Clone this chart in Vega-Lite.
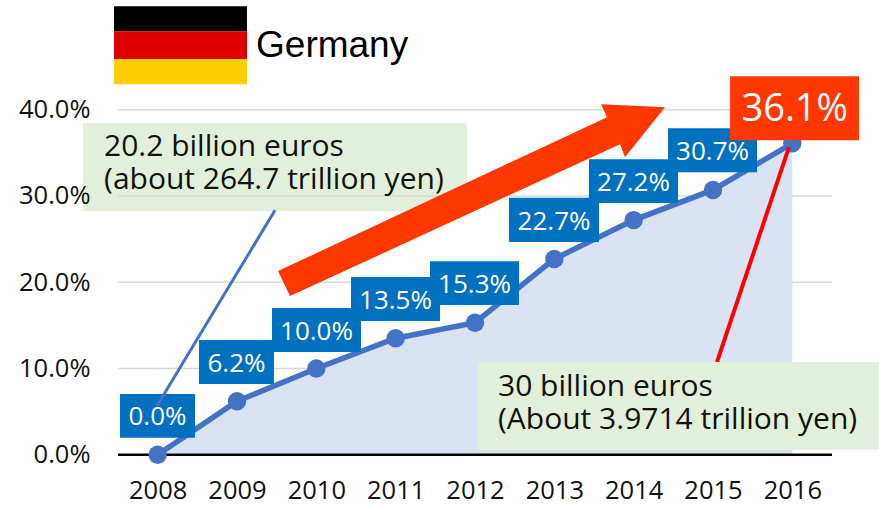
{
"$schema":"https://vega.github.io/schema/vega-lite/v6.json",
"width":714,"height":345,
"autosize":{"type":"none"},
"padding":{"left":118,"top":109.7,"right":47,"bottom":51.3},
"background":"white",
"config":{"view":{"stroke":null}},
"datasets":{
"series":[{"year":2008,"value":0.0},{"year":2009,"value":6.2},{"year":2010,"value":10.0},{"year":2011,"value":13.5},{"year":2012,"value":15.3},{"year":2013,"value":22.7},{"year":2014,"value":27.2},{"year":2015,"value":30.7},{"year":2016,"value":36.1}],
"labels":[
{"t":"0.0%","x":2007.525,"x2":2008.471,"y":1.97,"y2":7.03,"mx":2007.998,"my":4.5},
{"t":"6.2%","x":2008.521,"x2":2009.466,"y":8.19,"y2":13.29,"mx":2008.994,"my":10.74},
{"t":"10.0%","x":2009.441,"x2":2010.563,"y":11.9,"y2":17.0,"mx":2010.002,"my":14.45},
{"t":"13.5%","x":2010.437,"x2":2011.559,"y":15.49,"y2":20.59,"mx":2010.998,"my":18.04},
{"t":"15.3%","x":2011.433,"x2":2012.555,"y":17.35,"y2":22.44,"mx":2011.994,"my":19.9},
{"t":"22.7%","x":2012.429,"x2":2013.563,"y":24.65,"y2":29.78,"mx":2012.996,"my":27.2},
{"t":"27.2%","x":2013.437,"x2":2014.559,"y":29.17,"y2":34.26,"mx":2013.998,"my":31.7},
{"t":"30.7%","x":2014.433,"x2":2015.555,"y":32.76,"y2":37.86,"mx":2014.994,"my":35.3}
],
"flag":[
{"c":"#000000","x":2007.45,"x2":2009.126,"y":49.09,"y2":51.99},
{"c":"#DD0000","x":2007.45,"x2":2009.126,"y":45.85,"y2":49.09},
{"c":"#FFCE00","x":2007.45,"x2":2009.126,"y":42.95,"y2":45.85}
],
"arrow":[
{"i":0,"x":2009.517,"y":21.29},{"i":1,"x":2009.668,"y":18.39},{"i":2,"x":2013.828,"y":36.0},{"i":3,"x":2013.891,"y":34.5},{"i":4,"x":2014.395,"y":40.29},{"i":5,"x":2013.589,"y":40.64},{"i":6,"x":2013.664,"y":39.13},{"i":7,"x":2009.517,"y":21.29}
]
},
"data":{"name":"series"},
"layer":[
{"data":{"values":[{"x":2007.059,"x2":2011.899,"y":28.24,"y2":38.44}]},
 "mark":{"type":"rect","color":"#E2EFDA"},
 "encoding":{"x":{"field":"x","type":"quantitative","scale":{"domain":[2007.5,2016.5]}},"x2":{"field":"x2"},"y":{"field":"y","type":"quantitative","scale":{"domain":[0,40]}},"y2":{"field":"y2"}}},
{"data":{"values":[{"g":10},{"g":20},{"g":30},{"g":40}]},
 "mark":{"type":"rule","color":"#D9D9D9","strokeWidth":1.5},
 "encoding":{"y":{"field":"g","type":"quantitative","scale":{"domain":[0,40]}}}},
{"mark":{"type":"area","color":"#DAE3F3","opacity":1},
 "encoding":{"x":{"field":"year","type":"quantitative","scale":{"domain":[2007.5,2016.5]},"axis":{"title":null,"values":[2008,2009,2010,2011,2012,2013,2014,2015,2016],"format":"d","grid":false,"domain":false,"ticks":false,"labelFont":"Open Sans","labelFontSize":25.5,"labelColor":"#111111","labelPadding":24,"labelFlush":false,"labelOverlap":false}},"y":{"field":"value","type":"quantitative","scale":{"domain":[0,40]},"axis":{"title":null,"values":[0,10,20,30,40],"labelExpr":"format(datum.value,'.1f')+'%'","grid":false,"domain":false,"ticks":false,"labelFont":"Open Sans","labelFontSize":25.5,"labelColor":"#111111","labelPadding":28,"zindex":1}}}},
{"data":{"values":[{"g":0}]},
 "mark":{"type":"rule","color":"#000000","strokeWidth":2.5},
 "encoding":{"y":{"field":"g","type":"quantitative","scale":{"domain":[0,40]}}}},
{"mark":{"type":"line","color":"#4472C4","strokeWidth":5.5},
 "encoding":{"x":{"field":"year","type":"quantitative","scale":{"domain":[2007.5,2016.5]}},"y":{"field":"value","type":"quantitative","scale":{"domain":[0,40]}}}},
{"mark":{"type":"circle","color":"#4472C4","size":340,"opacity":1},
 "encoding":{"x":{"field":"year","type":"quantitative","scale":{"domain":[2007.5,2016.5]}},"y":{"field":"value","type":"quantitative","scale":{"domain":[0,40]}}}},
{"data":{"name":"labels"},
 "mark":{"type":"rect","color":"#0070C0"},
 "encoding":{"x":{"field":"x","type":"quantitative","scale":{"domain":[2007.5,2016.5]}},"x2":{"field":"x2"},"y":{"field":"y","type":"quantitative","scale":{"domain":[0,40]}},"y2":{"field":"y2"}}},
{"data":{"values":[{"x":2007.99,"y":5.64},{"x":2009.479,"y":28.35}]},
 "mark":{"type":"line","color":"#4472C4","strokeWidth":3},
 "encoding":{"x":{"field":"x","type":"quantitative","scale":{"domain":[2007.5,2016.5]}},"y":{"field":"y","type":"quantitative","scale":{"domain":[0,40]}}}},
{"data":{"name":"labels"},
 "mark":{"type":"text","color":"white","font":"Open Sans","fontSize":26,"align":"center","baseline":"middle","dy":1.5},
 "encoding":{"x":{"field":"mx","type":"quantitative","scale":{"domain":[2007.5,2016.5]}},"y":{"field":"my","type":"quantitative","scale":{"domain":[0,40]}},"text":{"field":"t"}}},
{"data":{"name":"arrow"},
 "mark":{"type":"line","color":"#FF3700","fill":"#FF3700","strokeWidth":0,"interpolate":"linear"},
 "encoding":{"order":{"field":"i","type":"quantitative"},"x":{"field":"x","type":"quantitative","scale":{"domain":[2007.5,2016.5]}},"y":{"field":"y","type":"quantitative","scale":{"domain":[0,40]}}}},
{"data":{"values":[{"x":2015.215,"x2":2016.841,"y":36.47,"y2":43.88}]},
 "mark":{"type":"rect","color":"#FF3700"},
 "encoding":{"x":{"field":"x","type":"quantitative","scale":{"domain":[2007.5,2016.5]}},"x2":{"field":"x2"},"y":{"field":"y","type":"quantitative","scale":{"domain":[0,40]}},"y2":{"field":"y2"}}},
{"data":{"values":[{"x":2016.03,"y":40.2,"t":"36.1%"}]},
 "mark":{"type":"text","color":"white","font":"Open Sans","fontSize":38,"align":"center","baseline":"middle","dy":2.5},
 "encoding":{"x":{"field":"x","type":"quantitative","scale":{"domain":[2007.5,2016.5]}},"y":{"field":"y","type":"quantitative","scale":{"domain":[0,40]}},"text":{"field":"t"}}},
{"data":{"values":[{"x":2015.958,"y":35.65},{"x":2015.05,"y":10.74}]},
 "mark":{"type":"line","color":"#FF0000","strokeWidth":4},
 "encoding":{"x":{"field":"x","type":"quantitative","scale":{"domain":[2007.5,2016.5]}},"y":{"field":"y","type":"quantitative","scale":{"domain":[0,40]}}}},
{"data":{"values":[{"x":2012.038,"x2":2017.093,"y":0.54,"y2":10.74}]},
 "mark":{"type":"rect","color":"#E2EFDA"},
 "encoding":{"x":{"field":"x","type":"quantitative","scale":{"domain":[2007.5,2016.5]}},"x2":{"field":"x2"},"y":{"field":"y","type":"quantitative","scale":{"domain":[0,40]}},"y2":{"field":"y2"}}},
{"data":{"values":[{"x":2007.324,"y":34.61,"t":"20.2 billion euros\n(about 264.7 trillion yen)"},{"x":2012.29,"y":6.8,"t":"30 billion euros\n(About 3.9714 trillion yen)"}]},
 "mark":{"type":"text","color":"#111111","font":"Open Sans","fontSize":30,"align":"left","baseline":"alphabetic","lineBreak":"\n","lineHeight":33},
 "encoding":{"x":{"field":"x","type":"quantitative","scale":{"domain":[2007.5,2016.5]}},"y":{"field":"y","type":"quantitative","scale":{"domain":[0,40]}},"text":{"field":"t"}}},
{"data":{"name":"flag"},
 "mark":{"type":"rect"},
 "encoding":{"x":{"field":"x","type":"quantitative","scale":{"domain":[2007.5,2016.5]}},"x2":{"field":"x2"},"y":{"field":"y","type":"quantitative","scale":{"domain":[0,40]}},"y2":{"field":"y2"},"color":{"field":"c","type":"nominal","scale":null}}},
{"data":{"values":[{"x":2009.24,"y":46.08,"t":"Germany"}]},
 "mark":{"type":"text","color":"#000000","font":"Liberation Sans","fontSize":37,"align":"left","baseline":"alphabetic"},
 "encoding":{"x":{"field":"x","type":"quantitative","scale":{"domain":[2007.5,2016.5]}},"y":{"field":"y","type":"quantitative","scale":{"domain":[0,40]}},"text":{"field":"t"}}}
]
}
